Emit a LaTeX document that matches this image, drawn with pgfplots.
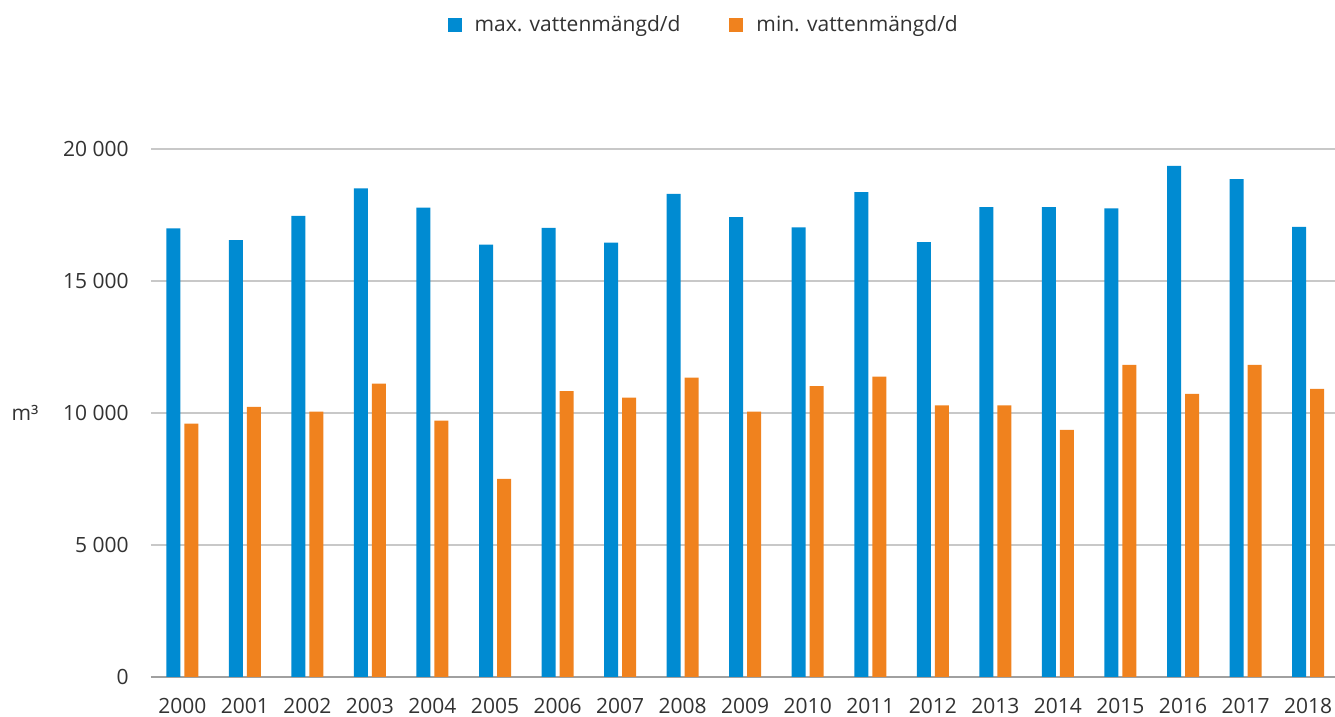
\documentclass[border=0pt]{standalone}
\usepackage{fontspec}
\setmainfont{Open Sans}
\usepackage{pgfplots}
\usepackage{pgfplotstable}
\pgfplotsset{compat=1.18}
\definecolor{cblue}{RGB}{0,139,210}
\definecolor{corange}{RGB}{240,130,30}
\definecolor{txt}{RGB}{50,50,50}
\definecolor{gridc}{RGB}{200,200,200}
\definecolor{axisc}{RGB}{160,160,160}
\pgfplotstableread{
x max min
0 16990 9600
1 16550 10230
2 17470 10050
3 18510 11110
4 17780 9710
5 16380 7500
6 17010 10830
7 16450 10580
8 18300 11340
9 17420 10050
10 17030 11020
11 18370 11380
12 16470 10290
13 17800 10290
14 17800 9360
15 17750 11820
16 19360 10720
17 18860 11820
18 17050 10910
}\data
\begin{document}
\begin{tikzpicture}
\useasboundingbox (-75.5pt,-20pt) rectangle (592pt,338.5pt);
\begin{axis}[
  at={(0,0)}, anchor=south west,
  scale only axis, width=592pt, height=264pt,
  xmin=-0.5, xmax=18.43, ymin=0, ymax=20000,
  ybar, bar width=7pt,
  axis x line*=bottom, axis y line*=left,
  y axis line style={draw=none},
  x axis line style={draw=axisc, line width=0.8pt, -},
  major tick length=0pt,
  ymajorgrids, grid style={draw=gridc, line width=0.75pt},
  xtick={0,...,18},
  xticklabels={2000,2001,2002,2003,2004,2005,2006,2007,2008,2009,2010,2011,2012,2013,2014,2015,2016,2017,2018},
  ytick={0,5000,10000,15000,20000},
  /pgf/number format/assume math mode=true,
  /pgf/number format/1000 sep={\ },
  scaled y ticks=false,
  every tick label/.append style={font=\fontsize{10.5pt}{12pt}\selectfont, text=txt},
  xticklabel style={anchor=north, inner sep=0pt, yshift=-10.5pt},
  yticklabel style={anchor=east, inner sep=0pt, xshift=-11pt},
  ylabel={m³},
  every axis y label/.style={at={(axis description cs:0,0.5)}, anchor=center, xshift=-63pt, font=\fontsize{10.5pt}{12pt}\selectfont, text=txt},
  legend columns=2,
  legend image code/.code={\fill[#1] (0pt,-3.5pt) rectangle (7pt,3.5pt);},
  legend style={at={(axis description cs:0.466,1.235)}, anchor=center, draw=none, fill=none,
    font=\fontsize{10.5pt}{12pt}\selectfont, text=txt,
    nodes={inner sep=0pt, anchor=west},
    /tikz/every odd column/.append style={column sep=6.5pt},
    /tikz/every even column/.append style={column sep=24.5pt}},
]
\addplot[fill=cblue, draw=none, bar shift=-4.5pt] table[x=x,y=max]{\data};
\addplot[fill=corange, draw=none, bar shift=4.5pt] table[x=x,y=min]{\data};
\legend{max. vattenmängd/d, min. vattenmängd/d}
\end{axis}
\end{tikzpicture}
\end{document}
